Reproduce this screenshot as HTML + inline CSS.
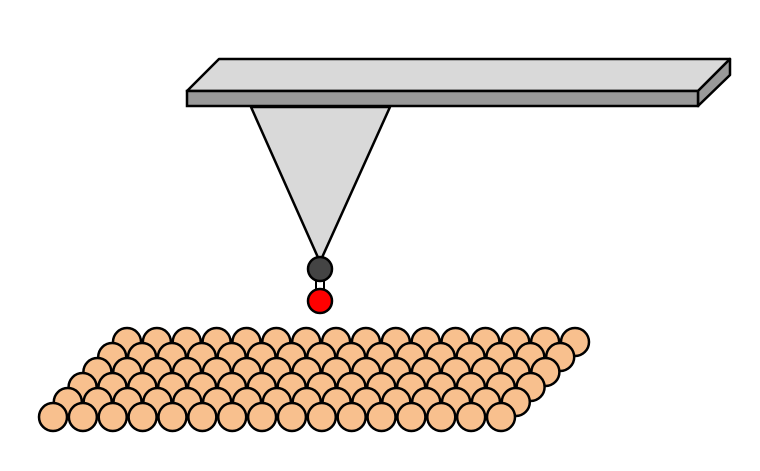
<!DOCTYPE html>
<html><head><meta charset="utf-8"><style>html,body{margin:0;padding:0;background:#fff}svg{display:block}</style></head>
<body>
<svg width="760" height="471" viewBox="0 0 760 471" xmlns="http://www.w3.org/2000/svg" xmlns:xlink="http://www.w3.org/1999/xlink">
<defs>
<circle id="a" r="14" fill="#f8c08e" stroke="#000" stroke-width="2.5"/>
<g id="row">
<use href="#a" xlink:href="#a" x="0"/><use href="#a" xlink:href="#a" x="29.87"/><use href="#a" xlink:href="#a" x="59.73"/><use href="#a" xlink:href="#a" x="89.6"/>
<use href="#a" xlink:href="#a" x="119.47"/><use href="#a" xlink:href="#a" x="149.33"/><use href="#a" xlink:href="#a" x="179.2"/><use href="#a" xlink:href="#a" x="209.07"/>
<use href="#a" xlink:href="#a" x="238.93"/><use href="#a" xlink:href="#a" x="268.8"/><use href="#a" xlink:href="#a" x="298.67"/><use href="#a" xlink:href="#a" x="328.53"/>
<use href="#a" xlink:href="#a" x="358.4"/><use href="#a" xlink:href="#a" x="388.27"/><use href="#a" xlink:href="#a" x="418.13"/><use href="#a" xlink:href="#a" x="448"/>
</g>
</defs>
<!-- cantilever -->
<polygon points="187,91 219,59 730,59 698,91" fill="#d9d9d9" stroke="#000" stroke-width="2.5" stroke-linejoin="round"/>
<polygon points="698,91 730,59 730,75 698,106" fill="#999" stroke="#000" stroke-width="2.5" stroke-linejoin="round"/>
<rect x="187" y="91" width="511" height="15" fill="#999" stroke="#000" stroke-width="2.5"/>
<!-- tip -->
<polygon points="251,107 390,107 320,262" fill="#d9d9d9" stroke="#000" stroke-width="2.5" stroke-linejoin="round"/>
<!-- CO -->
<rect x="316" y="278" width="8" height="14" fill="#fff" stroke="#000" stroke-width="2"/>
<circle cx="320" cy="269" r="12" fill="#444" stroke="#000" stroke-width="2.5"/>
<circle cx="320" cy="301" r="12" fill="#f00" stroke="#000" stroke-width="2.5"/>
<!-- surface -->
<use href="#row" xlink:href="#row" x="127" y="342"/>
<use href="#row" xlink:href="#row" x="112.2" y="357"/>
<use href="#row" xlink:href="#row" x="97.4" y="372"/>
<use href="#row" xlink:href="#row" x="82.6" y="387"/>
<use href="#row" xlink:href="#row" x="67.8" y="402"/>
<use href="#row" xlink:href="#row" x="53" y="417"/>
</svg>
</body></html>
